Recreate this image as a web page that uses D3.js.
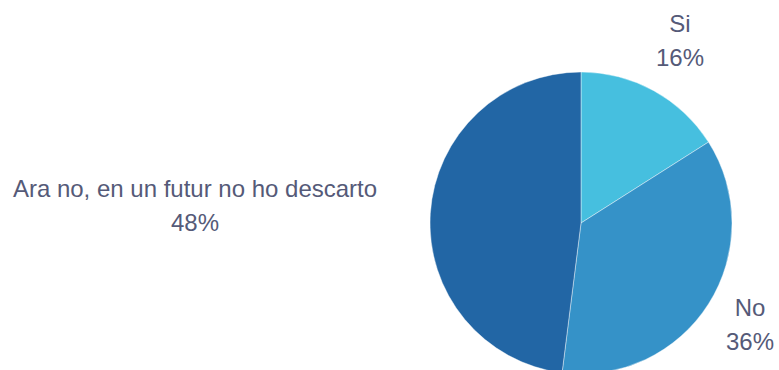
<!DOCTYPE html>
<html>
<head>
<meta charset="utf-8">
<script src="https://cdn.jsdelivr.net/npm/d3@7"></script>
<style>
  body { margin: 0; background: #fff; }
  svg { display: block; }
</style>
</head>
<body>
<svg id="chart" width="779" height="370"></svg>
<script>
const categories = ["Si", "No", "Ara no, en un futur no ho descarto"];
const values = [16, 36, 48];
const colors = ["#46bfdf", "#3592c8", "#2266a5"];

const svg = d3.select("#chart");
const cx = 581, cy = 223, radius = 151;

const data = categories.map((c, i) => ({ name: c, value: values[i], color: colors[i] }));

const pie = d3.pie().value(d => d.value).sort(null);
const arc = d3.arc().innerRadius(0).outerRadius(radius);
const arcs = pie(data);

const g = svg.append("g").attr("transform", `translate(${cx},${cy})`);

g.selectAll("path")
  .data(arcs)
  .enter()
  .append("path")
  .attr("d", arc)
  .attr("fill", d => d.data.color)
  .attr("stroke", "#fff")
  .attr("stroke-opacity", 0.6)
  .attr("stroke-width", 0.7);

// label spots, relative to the pie centre
const labelPos = [
  { x: 99, y: -191 },
  { x: 169, y: 93 },
  { x: -386, y: -26 }
];

const labels = g.selectAll("text.lbl")
  .data(arcs)
  .enter()
  .append("text")
  .attr("class", "lbl")
  .attr("text-anchor", "middle")
  .attr("font-family", "Liberation Sans, Arial, sans-serif")
  .attr("font-size", 24)
  .attr("fill", "#555a78");

labels.append("tspan")
  .attr("x", (d, i) => labelPos[i].x)
  .attr("y", (d, i) => labelPos[i].y)
  .text(d => d.data.name);

labels.append("tspan")
  .attr("x", (d, i) => labelPos[i].x)
  .attr("dy", 34)
  .text(d => d.data.value + "%");
</script>
</body>
</html>
